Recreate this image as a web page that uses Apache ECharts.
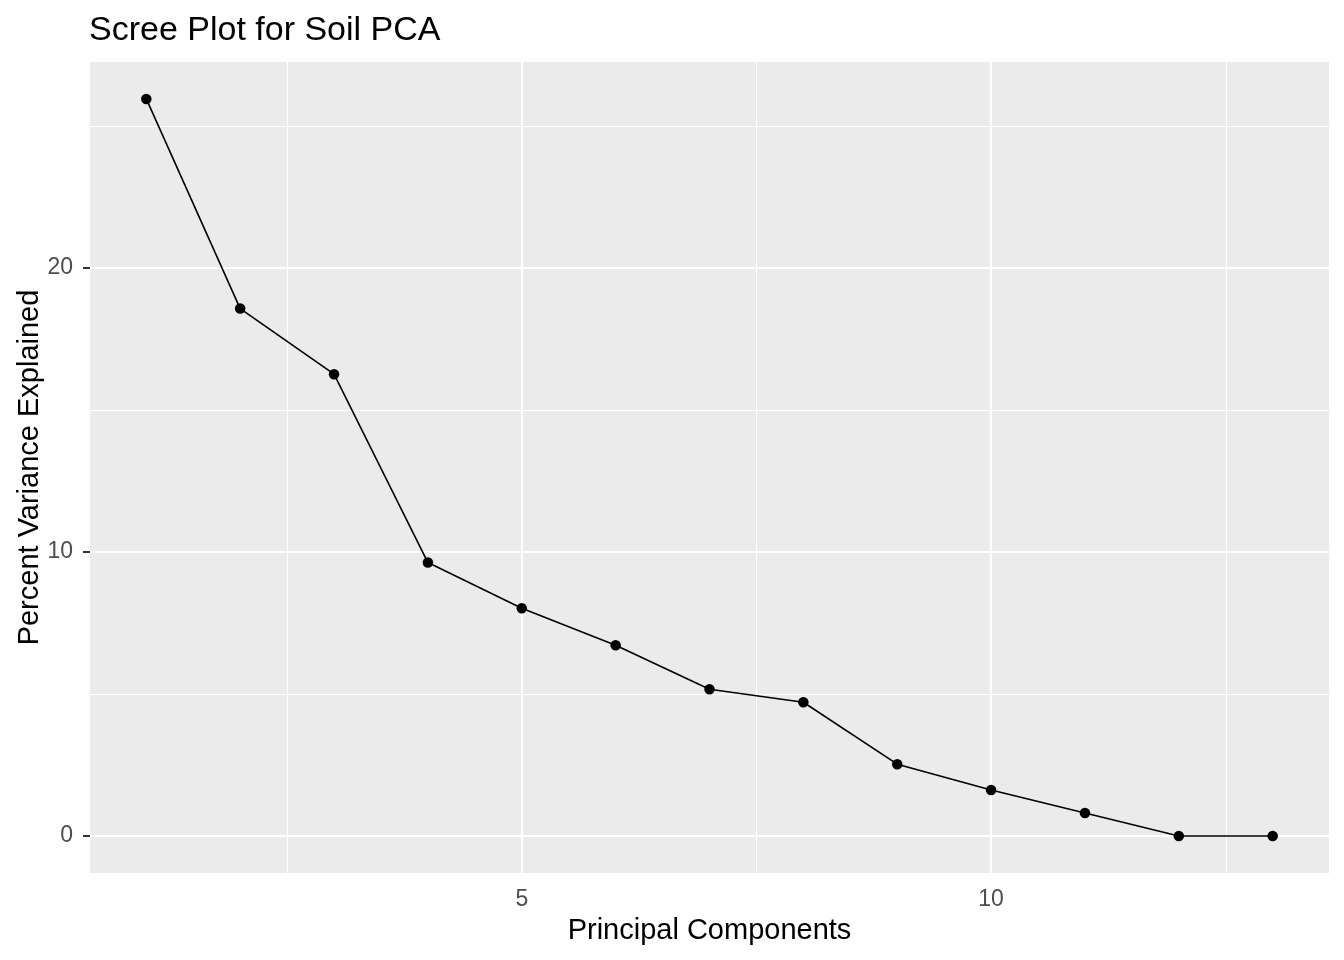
<!DOCTYPE html>
<html>
<head>
<meta charset="utf-8">
<script src="https://cdn.jsdelivr.net/npm/echarts@6/dist/echarts.min.js"></script>
<style>
html,body{margin:0;padding:0;background:#fff;}
#chart{width:1344px;height:960px;}
</style>
</head>
<body>
<div id="chart"></div>
<script>
// Data
const components = [1, 2, 3, 4, 5, 6, 7, 8, 9, 10, 11, 12, 13];
const varianceExplained = [25.95, 18.57, 16.26, 9.63, 8.02, 6.72, 5.17, 4.71, 2.53, 1.62, 0.81, 0.0, 0.0];
const xTicks = [5, 10];
const yTicks = [0, 10, 20];
const xMinorGrid = [2.5, 7.5, 12.5];
const yMinorGrid = [5, 15, 25];
const xRange = [0.4, 13.6];
const yRange = [-1.3, 27.25];

const chart = echarts.init(document.getElementById('chart'), null, {renderer: 'canvas'});
const FONT = 'Liberation Sans, Arial, sans-serif';

function gridLines(vals, key, width) {
  return vals.map(v => ({ [key]: v, lineStyle: { color: '#FFFFFF', width: width, type: 'solid' } }));
}

const option = {
  animation: false,
  backgroundColor: '#FFFFFF',
  title: {
    text: 'Scree Plot for Soil PCA',
    left: 84,
    top: 9,
    textStyle: { fontFamily: FONT, fontSize: 34, fontWeight: 'normal', color: '#000000' }
  },
  grid: {
    left: 90, right: 15, top: 62, bottom: 87,
    show: true, backgroundColor: '#EBEBEB', borderWidth: 0,
    containLabel: false, outerBoundsMode: 'none'
  },
  xAxis: {
    type: 'value',
    min: xRange[0], max: xRange[1],
    name: 'Principal Components',
    nameLocation: 'middle',
    nameGap: 43,
    nameTextStyle: { fontFamily: FONT, fontSize: 29, color: '#000000' },
    axisLine: { show: false },
    axisTick: { show: true, inside: false, length: 7, customValues: xTicks, lineStyle: { color: '#333333', width: 2 } },
    axisLabel: { show: true, customValues: xTicks, margin: 15, fontFamily: FONT, fontSize: 23, color: '#4D4D4D' },
    splitLine: { show: false }
  },
  yAxis: {
    type: 'value',
    min: yRange[0], max: yRange[1],
    name: 'Percent Variance Explained',
    nameLocation: 'middle',
    nameRotate: 90,
    nameGap: 46,
    nameMoveOverlap: false,
    nameTextStyle: { fontFamily: FONT, fontSize: 29, color: '#000000' },
    axisLine: { show: false },
    axisTick: { show: true, inside: false, length: 7, customValues: yTicks, lineStyle: { color: '#333333', width: 2 } },
    axisLabel: { show: true, customValues: yTicks, margin: 17, fontFamily: FONT, fontSize: 23, color: '#4D4D4D' },
    splitLine: { show: false }
  },
  series: [
    {
      type: 'line',
      data: [],
      z: 1,
      silent: true,
      markLine: {
        z: 1,
        silent: true,
        symbol: 'none',
        label: { show: false },
        emphasis: { disabled: true },
        animation: false,
        data: [].concat(
          gridLines(xMinorGrid, 'xAxis', 1.1),
          gridLines(yMinorGrid, 'yAxis', 1.1),
          gridLines(xTicks, 'xAxis', 2.2),
          gridLines(yTicks, 'yAxis', 2.2)
        )
      }
    },
    {
      type: 'line',
      z: 5,
      data: components.map((c, i) => [c, varianceExplained[i]]),
      symbol: 'circle',
      symbolSize: 10.5,
      showAllSymbol: true,
      lineStyle: { color: '#000000', width: 1.6 },
      itemStyle: { color: '#000000' },
      emphasis: { disabled: true }
    }
  ]
};

chart.setOption(option);
</script>
</body>
</html>
